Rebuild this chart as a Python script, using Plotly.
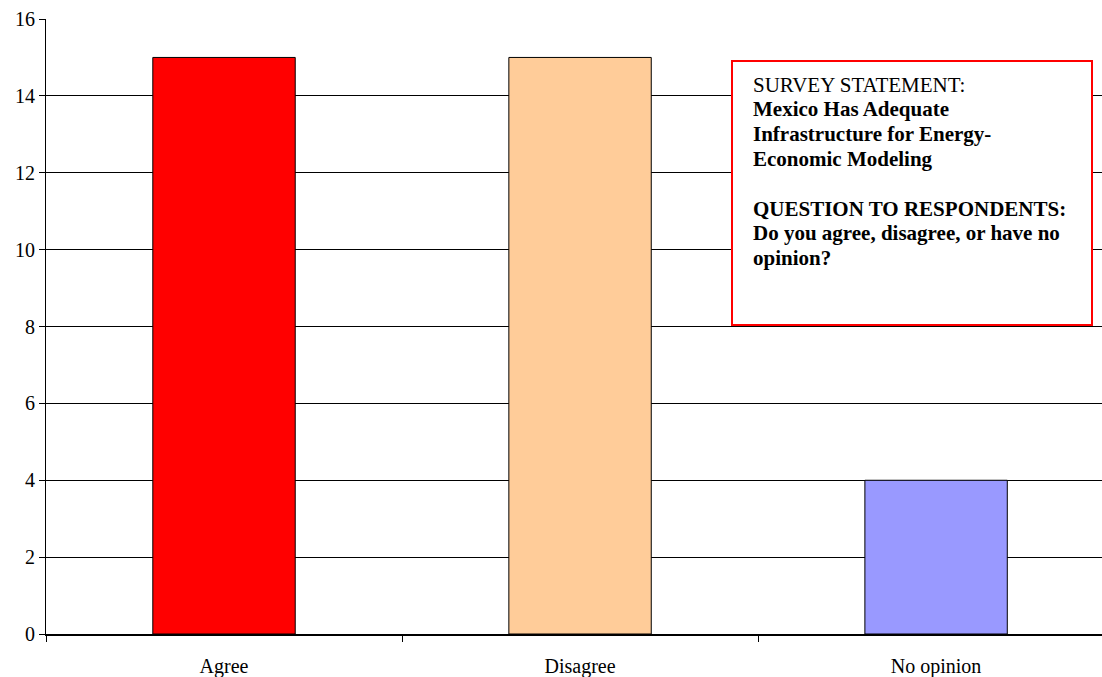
import plotly.graph_objects as go

categories = ["Agree", "Disagree", "No opinion"]
counts = [15, 15, 4]
bar_colors = ["#FF0000", "#FFCC99", "#9999FF"]

box_lines = [
    ("SURVEY STATEMENT:", False),
    ("Mexico Has Adequate", True),
    ("Infrastructure for Energy-", True),
    ("Economic Modeling", True),
    ("", False),
    ("QUESTION TO RESPONDENTS:", True),
    ("Do you agree, disagree, or have no", True),
    ("opinion?", True),
]

W, H = 1102, 677
ml, mr, mt, mb = 46, 0, 19, 43
pw, ph = W - ml - mr, H - mt - mb

def px_x(x):
    return (x - ml) / pw

def px_y(y):
    return (H - mb - y) / ph

fig = go.Figure(
    go.Bar(
        x=categories,
        y=counts,
        width=0.4,
        marker=dict(color=bar_colors, line=dict(color="black", width=1)),
    )
)

FONT = "Liberation Serif, Times New Roman, serif"

fig.update_layout(
    width=W,
    height=H,
    margin=dict(l=ml, r=mr, t=mt, b=mb),
    paper_bgcolor="white",
    plot_bgcolor="white",
    showlegend=False,
    font=dict(family=FONT, size=20, color="black"),
    xaxis=dict(
        range=[-0.5, 2.466],
        showgrid=False,
        showline=True,
        linecolor="black",
        linewidth=1.5,
        ticks="outside",
        tickson="boundaries",
        ticklen=6,
        tickcolor="black",
        tickfont=dict(family=FONT, size=20),
        ticklabelstandoff=13,
    ),
    yaxis=dict(
        range=[0, 16],
        dtick=2,
        showgrid=True,
        gridcolor="black",
        gridwidth=1,
        showline=True,
        linecolor="black",
        linewidth=1,
        ticks="outside",
        ticklen=6,
        tickcolor="black",
        tickfont=dict(family=FONT, size=20),
        zeroline=False,
    ),
)

fig.add_shape(
    type="rect",
    xref="paper", yref="paper",
    x0=px_x(732), x1=px_x(1092), y0=px_y(325), y1=px_y(61),
    line=dict(color="#FF0000", width=2),
    fillcolor="white",
    layer="above",
)

first_baseline = 90.7
spacing = 24.8
for i, (txt, bold) in enumerate(box_lines):
    if not txt:
        continue
    base = first_baseline + i * spacing
    fig.add_annotation(
        xref="paper", yref="paper",
        x=px_x(751), y=px_y(base - 6),
        xanchor="left", yanchor="middle",
        text=f"<b>{txt}</b>" if bold else txt,
        showarrow=False,
        font=dict(family=FONT, size=21, color="black"),
        align="left",
    )

fig.write_html("out.html")
